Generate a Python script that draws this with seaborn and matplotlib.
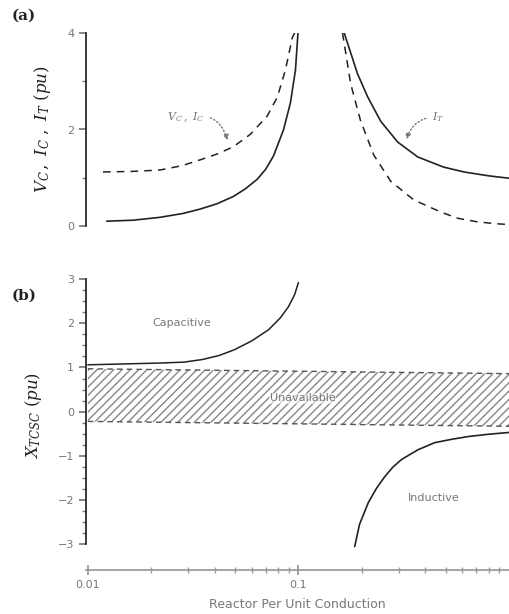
import matplotlib
matplotlib.use("Agg")
import matplotlib.pyplot as plt
import seaborn as sns
from matplotlib.ticker import FixedLocator, MultipleLocator, NullFormatter

# panel (a): left of resonance
vc_left_x = [0.0118, 0.0160, 0.0220, 0.0280, 0.0341, 0.0410, 0.0490, 0.0591, 0.0711, 0.0794, 0.0867, 0.0936, 0.0960]
vc_left_y = [1.12, 1.13, 1.16, 1.25, 1.37, 1.49, 1.64, 1.90, 2.28, 2.67, 3.23, 3.91, 4.00]
it_left_x = [0.0123, 0.0164, 0.0220, 0.0283, 0.0341, 0.0410, 0.0490, 0.0560, 0.0638, 0.0700, 0.0761, 0.0849, 0.0916, 0.0968, 0.0995]
it_left_y = [0.10, 0.12, 0.18, 0.26, 0.35, 0.46, 0.61, 0.77, 0.97, 1.18, 1.45, 1.99, 2.55, 3.23, 4.00]
# panel (a): right of resonance
vc_right_x = [0.162, 0.177, 0.197, 0.228, 0.274, 0.353, 0.474, 0.571, 0.700, 0.850, 1.0]
vc_right_y = [4.00, 2.95, 2.19, 1.47, 0.93, 0.54, 0.29, 0.16, 0.09, 0.05, 0.03]
it_right_x = [0.165, 0.191, 0.213, 0.246, 0.296, 0.369, 0.490, 0.611, 0.800, 1.0]
it_right_y = [4.00, 3.15, 2.68, 2.17, 1.74, 1.43, 1.22, 1.12, 1.04, 0.99]

# panel (b): TCSC reactance
cap_x = [0.0100, 0.0150, 0.0220, 0.0286, 0.0350, 0.0420, 0.0496, 0.0600, 0.0720, 0.0820, 0.0896, 0.0960, 0.1000]
cap_y = [1.06, 1.08, 1.10, 1.12, 1.18, 1.27, 1.40, 1.60, 1.85, 2.12, 2.37, 2.65, 2.92]
ind_x = [0.185, 0.195, 0.215, 0.235, 0.257, 0.280, 0.309, 0.370, 0.444, 0.540, 0.645, 0.800, 1.0]
ind_y = [-3.05, -2.55, -2.05, -1.73, -1.47, -1.26, -1.08, -0.86, -0.70, -0.62, -0.56, -0.51, -0.47]
band_x = [0.0100, 1.0]
band_top = [0.97, 0.86]
band_bottom = [-0.22, -0.33]

sns.set_theme(style="ticks")
plt.rcParams["font.family"] = ["DejaVu Sans"]
plt.rcParams["mathtext.fontset"] = "dejavuserif"
ink = "#222222"
grey = "#777777"

fig = plt.figure(figsize=(5.09, 6.14), dpi=100)
ax_a = fig.add_axes([86 / 509, 1 - 226 / 614, 423 / 509, 193 / 614])
ax_b = fig.add_axes([86 / 509, 1 - 551 / 614, 423 / 509, 272 / 614])

for ax in (ax_a, ax_b):
    ax.set_xscale("log")
    ax.set_xlim(0.0098, 1.0)
    ax.spines["top"].set_visible(False)
    ax.spines["right"].set_visible(False)
    ax.spines["left"].set_color(ink)
    ax.tick_params(axis="y", colors=grey, labelcolor=grey, labelsize=8, direction="out", length=5)
    ax.tick_params(axis="y", which="minor", colors=grey, length=3)

# ---- (a)
dash = (0, (5, 4))
sns.lineplot(x=vc_left_x, y=vc_left_y, ax=ax_a, color=ink, lw=1.1, linestyle=dash, sort=False)
sns.lineplot(x=it_left_x, y=it_left_y, ax=ax_a, color=ink, lw=1.2, sort=False)
sns.lineplot(x=vc_right_x, y=vc_right_y, ax=ax_a, color=ink, lw=1.1, linestyle=dash, sort=False)
sns.lineplot(x=it_right_x, y=it_right_y, ax=ax_a, color=ink, lw=1.2, sort=False)
ax_a.set_ylim(0, 4.0)
ax_a.spines["bottom"].set_visible(False)
ax_a.tick_params(axis="x", which="both", bottom=False, labelbottom=False)
ax_a.yaxis.set_major_locator(FixedLocator([0, 2, 4]))
ax_a.yaxis.set_minor_locator(FixedLocator([1, 3]))
ax_a.set_ylabel(r"$V_C\,,\ I_C\ ,\ I_T\ (pu)$", fontsize=12, color=ink, labelpad=10)

ax_a.annotate(r"$V_C\,,\ I_C$", xy=(0.0464, 1.72), xytext=(0.0238, 2.2), fontsize=8, color=grey,
              arrowprops=dict(arrowstyle="-|>", linestyle=":", color=grey, lw=1,
                              connectionstyle="arc3,rad=-0.5"))
ax_a.annotate(r"$I_T$", xy=(0.324, 1.74), xytext=(0.43, 2.2), fontsize=8, color=grey,
              arrowprops=dict(arrowstyle="-|>", linestyle=":", color=grey, lw=1,
                              connectionstyle="arc3,rad=0.4"))

# ---- (b)
ax_b.fill_between(band_x, band_bottom, band_top, facecolor="none", edgecolor="#888888",
                  hatch="////", lw=0)
sns.lineplot(x=band_x, y=band_top, ax=ax_b, color="#555555", lw=1, linestyle=(0, (4, 3)))
sns.lineplot(x=band_x, y=band_bottom, ax=ax_b, color="#555555", lw=1, linestyle=(0, (4, 3)))
sns.lineplot(x=cap_x, y=cap_y, ax=ax_b, color=ink, lw=1.1, sort=False)
sns.lineplot(x=ind_x, y=ind_y, ax=ax_b, color=ink, lw=1.2, sort=False)
ax_b.set_ylim(-3.15, 3.0)
ax_b.spines["left"].set_bounds(-3, 3)
ax_b.spines["bottom"].set_position(("outward", 14))
ax_b.spines["bottom"].set_color("#999999")
ax_b.yaxis.set_major_locator(MultipleLocator(1))
ax_b.yaxis.set_minor_locator(MultipleLocator(0.25))
ax_b.set_xticks([0.01, 0.1])
ax_b.set_xticklabels(["0.01", "0.1"])
ax_b.xaxis.set_minor_formatter(NullFormatter())
ax_b.tick_params(axis="x", which="both", colors="#999999", labelcolor=grey, labelsize=8, direction="inout")
ax_b.tick_params(axis="x", which="major", length=7)
ax_b.tick_params(axis="x", which="minor", length=4)
ax_b.set_ylabel(r"$X_{TCSC}\ (pu)$", fontsize=12, color=ink, labelpad=10)
ax_b.set_xlabel("Reactor Per Unit Conduction", fontsize=9, color=grey, labelpad=6)

ax_b.text(0.028, 2.0, "Capacitive", fontsize=8, color=grey, ha="center", va="center")
ax_b.text(0.105, 0.30, "Unavailable", fontsize=8, color=grey, ha="center", va="center",
          bbox=dict(facecolor="white", edgecolor="none", pad=0.5, alpha=0.6))
ax_b.text(0.44, -1.95, "Inductive", fontsize=8, color=grey, ha="center", va="center")

fig.text(12 / 509, 1 - 20 / 614, "(a)", family="DejaVu Serif", fontweight="bold", fontsize=11, color=ink)
fig.text(12 / 509, 1 - 300 / 614, "(b)", family="DejaVu Serif", fontweight="bold", fontsize=11, color=ink)

fig.savefig("out.png", dpi=100)
